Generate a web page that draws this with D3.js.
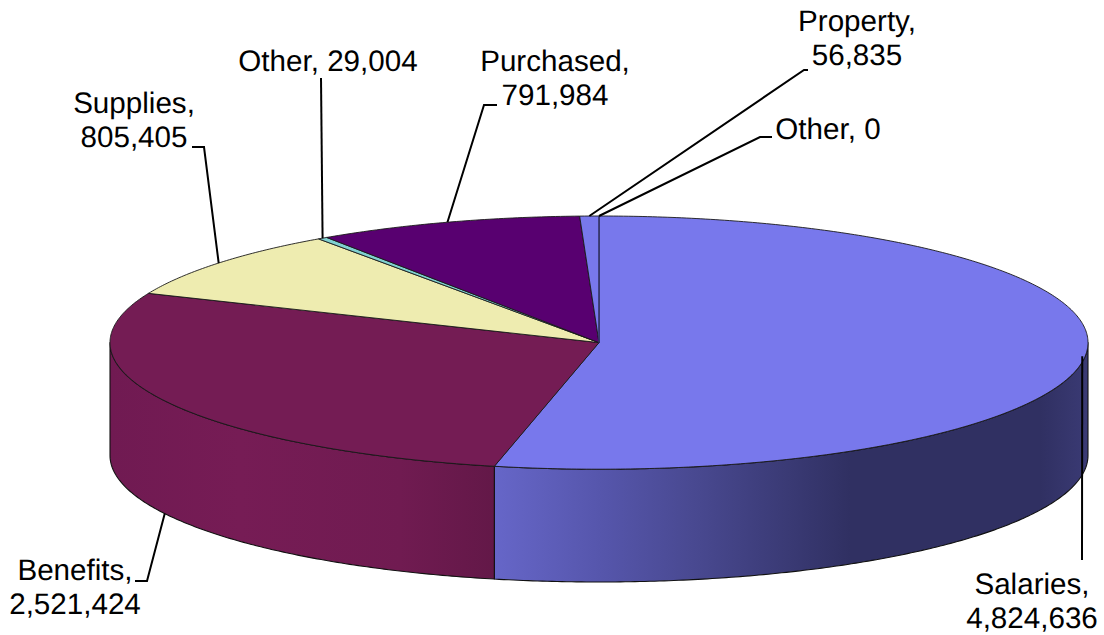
<!DOCTYPE html>
<html>
<head>
<meta charset="utf-8">
<script src="https://cdn.jsdelivr.net/npm/d3@7/dist/d3.min.js"></script>
<style>
html,body{margin:0;padding:0;background:#fff;overflow:hidden}
svg{display:block}
text{font-family:"Liberation Sans",Arial,sans-serif;font-size:29.6px;fill:#000;text-anchor:middle;text-rendering:geometricPrecision}
</style>
</head>
<body>
<svg id="chart" width="1104" height="635"></svg>
<script>
const categories = ["Salaries","Benefits","Supplies","Other","Purchased","Property","Other"];
const values = [4824636,2521424,805405,29004,791984,56835,0];
const sliceColors = ["#7878ec","#741c54","#eeecb0","#80d0d0","#580070","#7878ec","#7878ec"];

// label layout: [centre x, first baseline y, wrap into two lines]
const labelPos = [[1032,594,true],[75,580,true],[134,113,true],[328,71,false],[555,71,true],[857,31,true],[828,139,false]];
// leader layout: elbow points, whether it starts at the lower rim, rim inset factor
const leaderElbows = [[[1082,560]],[[147,581],[135,581]],[[204,147],[192,147]],[[321,78]],[[484,105],[497,105]],[[804,70],[808,70]],[[760,137],[772,137]]];
const leaderLower = [false,true,false,false,false,false,false];
const leaderInset = [0.994,1,1,1,1,1,1];

const cx = 599, cy = 342.6, rx = 489, ry = 126.6, depth = 112.8;
const svg = d3.select("#chart");

const pie = d3.pie().value(d => d).sort(null).startAngle(0).endAngle(2*Math.PI);
const arcs = pie(values);

const rim = (a, dy = 0, k = 1) => [cx + k*rx*Math.sin(a), cy + dy - k*ry*Math.cos(a)];
const line = d3.line();
const samples = (a, b) => {
  const n = Math.max(1, Math.ceil((b - a) / 0.01));
  return d3.range(n + 1).map(i => a + (b - a) * i / n);
};

// gradients for the outer wall
const defs = svg.append("defs");
const wallStops = {
  0: [[495,"#6666c8"],[600,"#5656ac"],[700,"#48488f"],[850,"#303062"],[1040,"#303062"],[1087,"#3a3a74"]],
  1: [[110,"#701a52"],[240,"#761c55"],[400,"#701b51"],[495,"#631848"]]
};
Object.entries(wallStops).forEach(([i, stops]) => {
  const g = defs.append("linearGradient").attr("id","wall"+i)
    .attr("gradientUnits","userSpaceOnUse")
    .attr("x1",stops[0][0]).attr("x2",stops[stops.length-1][0]).attr("y1",0).attr("y2",0);
  const x0 = stops[0][0], x1 = stops[stops.length-1][0];
  stops.forEach(s => g.append("stop").attr("offset",(s[0]-x0)/(x1-x0)).attr("stop-color",s[1]));
});

// outer wall, front half only
arcs.forEach((d,i) => {
  const a = Math.max(d.startAngle, Math.PI/2), b = Math.min(d.endAngle, 3*Math.PI/2);
  if (b <= a) return;
  const top = samples(a,b).map(t => rim(t));
  const bot = samples(a,b).reverse().map(t => rim(t,depth));
  svg.append("path").attr("d", line(top.concat(bot)) + "Z")
    .attr("fill", wallStops[i] ? `url(#wall${i})` : sliceColors[i])
    .attr("stroke","#111").attr("stroke-width",1.1).attr("stroke-linejoin","round");
});

// top face
arcs.forEach((d,i) => {
  const pts = [[cx,cy]].concat(samples(d.startAngle,d.endAngle).map(t => rim(t)));
  svg.append("path").attr("d", line(pts) + "Z")
    .attr("fill", sliceColors[i])
    .attr("stroke", d.value === 0 ? "#3a3a78" : "#1a1a1a")
    .attr("stroke-width",0.9).attr("stroke-linejoin","round");
});

// leaders
arcs.forEach((d,i) => {
  const mid = (d.startAngle + d.endAngle)/2;
  const start = rim(mid, leaderLower[i] ? depth : 0, leaderInset[i]);
  svg.append("path").attr("d", line([start].concat(leaderElbows[i])))
    .attr("fill","none").attr("stroke","#000").attr("stroke-width",2);
});

// labels
const fmt = d3.format(",");
arcs.forEach((d,i) => {
  const [x,y,wrap] = labelPos[i];
  const t = svg.append("text").attr("x",x).attr("y",y);
  if (wrap) {
    t.append("tspan").attr("x",x).text(categories[i] + ",");
    t.append("tspan").attr("x",x).attr("dy",34).text(fmt(values[i]));
  } else {
    t.text(categories[i] + ", " + fmt(values[i]));
  }
});
</script>
</body>
</html>
